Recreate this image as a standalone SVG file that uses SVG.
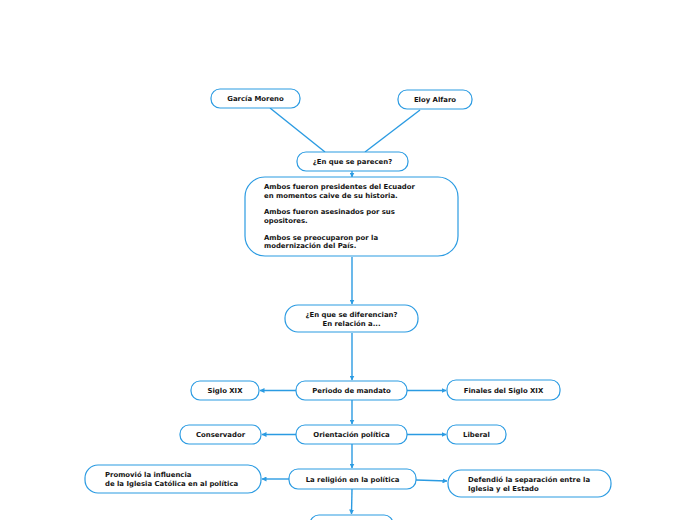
<svg xmlns="http://www.w3.org/2000/svg" width="696" height="520" viewBox="0 0 696 520">
<style>
.n{fill:#fff;stroke:#2b9be2;stroke-width:1.2}
.t{font-family:"DejaVu Sans",Verdana,sans-serif;font-weight:bold;font-size:6.9px;fill:#141414}
.m{text-anchor:middle}
.c{fill:none;stroke:#2b9be2;stroke-width:1.4}
</style>
<defs>
<marker id="a" viewBox="0 0 10 10" refX="9" refY="5" markerWidth="5" markerHeight="5" orient="auto" markerUnits="userSpaceOnUse"><path d="M0,0L10,5L0,10z" fill="#2b9be2"/></marker>
</defs>
<rect width="696" height="520" fill="#fff"/>
<g id="connectors">
<path class="c" d="M270,108L325,152"/>
<path class="c" d="M420,110L365,152"/>
<path class="c" d="M352,171L352,177" marker-end="url(#a)"/>
<path class="c" d="M352,257L352,304" marker-end="url(#a)"/>
<path class="c" d="M352,333L352,380" marker-end="url(#a)"/>
<path class="c" d="M296,390.5L260,390.5" marker-end="url(#a)"/>
<path class="c" d="M407,390.5L446,390.5" marker-end="url(#a)"/>
<path class="c" d="M352,400L352,424" marker-end="url(#a)"/>
<path class="c" d="M296,434.5L262,434.5" marker-end="url(#a)"/>
<path class="c" d="M407,434.5L446,434.5" marker-end="url(#a)"/>
<path class="c" d="M352,444L352,468" marker-end="url(#a)"/>
<path class="c" d="M289,479L262,479" marker-end="url(#a)"/>
<path class="c" d="M416,480L447,481" marker-end="url(#a)"/>
<path class="c" d="M352,489L351.5,514" marker-end="url(#a)"/>
</g>
<g id="garcia"><rect class="n" x="211" y="89" width="89" height="19" rx="9"/><text class="t m" x="255.5" y="101">García Moreno</text></g>
<g id="eloy"><rect class="n" x="398" y="90" width="74" height="19" rx="9"/><text class="t m" x="435" y="102">Eloy Alfaro</text></g>
<g id="parecen"><rect class="n" x="297" y="152" width="111" height="19" rx="9"/><text class="t m" x="352.5" y="164">¿En que se parecen?</text></g>
<g id="ambos"><rect class="n" x="245" y="177" width="213" height="79" rx="20"/>
<text class="t" x="264"><tspan x="264" y="189">Ambos fueron presidentes del Ecuador</tspan><tspan x="264" y="197.5">en momentos caive de su historia.</tspan><tspan x="264" y="214">Ambos fueron asesinados por sus</tspan><tspan x="264" y="222.5">opositores.</tspan><tspan x="264" y="239.5">Ambos se preocuparon por la</tspan><tspan x="264" y="248">modernización del País.</tspan></text></g>
<g id="diferencian"><rect class="n" x="285" y="305" width="133" height="27" rx="13"/><text class="t m"><tspan x="351.5" y="317">¿En que se diferencian?</tspan><tspan x="351.5" y="326">En relación a...</tspan></text></g>
<g id="sigloxix"><rect class="n" x="191" y="381" width="68" height="19" rx="9"/><text class="t m" x="225" y="393">Siglo XIX</text></g>
<g id="periodo"><rect class="n" x="296" y="381" width="111" height="19" rx="9"/><text class="t m" x="351.5" y="393">Periodo de mandato</text></g>
<g id="finales"><rect class="n" x="447" y="380" width="113" height="20" rx="9"/><text class="t m" x="503.5" y="392.5">Finales del Siglo XIX</text></g>
<g id="conservador"><rect class="n" x="180" y="425" width="81" height="19" rx="9"/><text class="t m" x="220.5" y="437">Conservador</text></g>
<g id="orientacion"><rect class="n" x="296" y="425" width="111" height="19" rx="9"/><text class="t m" x="351.5" y="437">Orientación política</text></g>
<g id="liberal"><rect class="n" x="447" y="425" width="59" height="19" rx="9"/><text class="t m" x="476.5" y="437">Liberal</text></g>
<g id="promovio"><rect class="n" x="85" y="465" width="176" height="28" rx="13"/><text class="t"><tspan x="105" y="477">Promovió la influencia</tspan><tspan x="105" y="486">de la Iglesia Católica en al política</tspan></text></g>
<g id="religion"><rect class="n" x="289" y="469" width="127" height="20" rx="9"/><text class="t m" x="352.5" y="481.5">La religión en la política</text></g>
<g id="defendio"><rect class="n" x="448" y="470" width="163" height="27" rx="13"/><text class="t"><tspan x="468" y="481.5">Defendió la separación entre la</tspan><tspan x="468" y="490.5">Iglesia y el Estado</tspan></text></g>
<g id="bottom"><rect class="n" x="310" y="515" width="83" height="20" rx="9"/></g>
</svg>
